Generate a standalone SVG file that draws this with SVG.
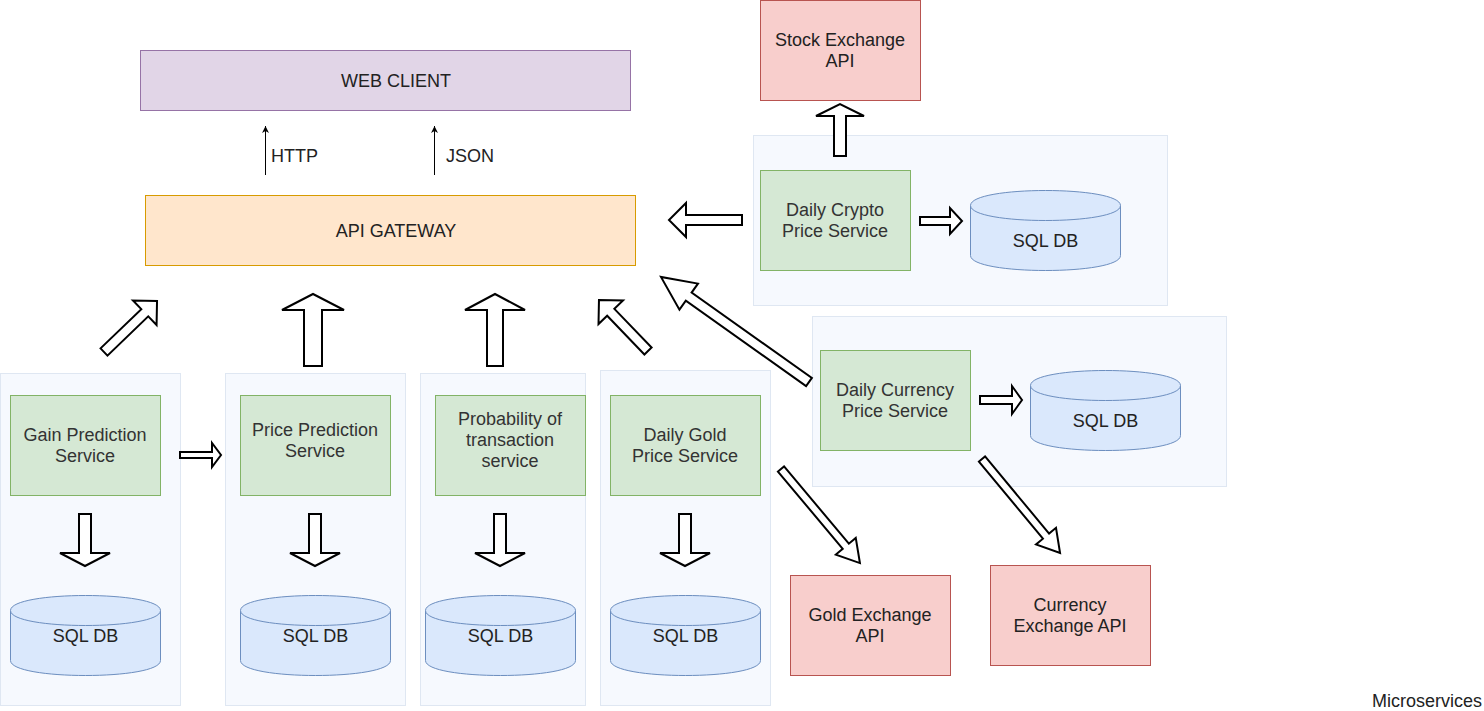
<svg xmlns="http://www.w3.org/2000/svg" width="1484" height="711" viewBox="0 0 1484 711">
<defs>
<style>
text{font-family:"Liberation Sans",Arial,Helvetica,sans-serif;font-size:18px;fill:#222;text-anchor:middle}
.svc text{fill:#333}
.cont{fill:#f6f9fe;stroke:#dfe7f2;stroke-width:1}
.svc rect{fill:#d5e8d4;stroke:#82b366;stroke-width:1}
.ext rect{fill:#f8cecc;stroke:#b85450;stroke-width:1}
.db path{fill:#dae8fc;stroke:#6c8ebf;stroke-width:1}
.blk{fill:#fff;stroke:#000;stroke-width:2;stroke-linejoin:miter}
.thin{stroke:#000;stroke-width:1;fill:none}
</style>
<marker id="ah" markerWidth="8" markerHeight="8" refX="7" refY="4" orient="auto" markerUnits="userSpaceOnUse">
<path d="M0,0.5 L7,4 L0,7.5 L2,4 Z" fill="#000"/>
</marker>
</defs>
<rect width="1484" height="711" fill="#fff"/>

<g id="containers">
<rect class="cont" x="0.5" y="373.5" width="180" height="332"/>
<rect class="cont" x="225.5" y="373.5" width="180" height="332"/>
<rect class="cont" x="420.5" y="373.5" width="165" height="332"/>
<rect class="cont" x="600.5" y="370.5" width="170" height="335"/>
<rect class="cont" x="753.5" y="135.5" width="414" height="170"/>
<rect class="cont" x="812.5" y="316.5" width="414" height="170"/>
</g>

<g id="web-client">
<rect x="140.5" y="50.5" width="490" height="60" fill="#e1d5e7" stroke="#9673a6"/>
<text x="396" y="87">WEB CLIENT</text>
</g>
<g id="api-gateway">
<rect x="145.5" y="195.5" width="490" height="70" fill="#ffe6cc" stroke="#d79b00"/>
<text x="396" y="237">API GATEWAY</text>
</g>

<g id="gain-prediction" class="svc">
<rect x="10.5" y="395.5" width="150" height="100"/>
<text x="85" y="441">Gain Prediction</text>
<text x="85" y="462">Service</text>
</g>
<g id="price-prediction" class="svc">
<rect x="240.5" y="395.5" width="150" height="100"/>
<text x="315" y="436">Price Prediction</text>
<text x="315" y="457">Service</text>
</g>
<g id="probability" class="svc">
<rect x="435.5" y="395.5" width="150" height="100"/>
<text x="510" y="425">Probability of</text>
<text x="510" y="446">transaction</text>
<text x="510" y="467">service</text>
</g>
<g id="daily-gold" class="svc">
<rect x="610.5" y="395.5" width="150" height="100"/>
<text x="685" y="441">Daily Gold</text>
<text x="685" y="462">Price Service</text>
</g>
<g id="daily-crypto" class="svc">
<rect x="760.5" y="170.5" width="150" height="100"/>
<text x="835" y="216">Daily Crypto</text>
<text x="835" y="237">Price Service</text>
</g>
<g id="daily-currency" class="svc">
<rect x="820.5" y="350.5" width="150" height="100"/>
<text x="895" y="396">Daily Currency</text>
<text x="895" y="417">Price Service</text>
</g>

<g id="stock-exchange-api" class="ext">
<rect x="760.5" y="0.5" width="160" height="100"/>
<text x="840" y="46">Stock Exchange</text>
<text x="840" y="67">API</text>
</g>
<g id="gold-exchange-api" class="ext">
<rect x="790.5" y="575.5" width="160" height="100"/>
<text x="870" y="621">Gold Exchange</text>
<text x="870" y="642">API</text>
</g>
<g id="currency-exchange-api" class="ext">
<rect x="990.5" y="565.5" width="160" height="100"/>
<text x="1070" y="611">Currency</text>
<text x="1070" y="632">Exchange API</text>
</g>

<g id="db-gain" class="db" transform="translate(10.5,595.5)">
<path d="M0,15 C0,-5 150,-5 150,15 L150,65 C150,85 0,85 0,65 Z"/>
<path d="M0,15 C0,35 150,35 150,15" fill="none"/>
<text x="75" y="46">SQL DB</text>
</g>
<g id="db-price" class="db" transform="translate(240.5,595.5)">
<path d="M0,15 C0,-5 150,-5 150,15 L150,65 C150,85 0,85 0,65 Z"/>
<path d="M0,15 C0,35 150,35 150,15" fill="none"/>
<text x="75" y="46">SQL DB</text>
</g>
<g id="db-probability" class="db" transform="translate(425.5,595.5)">
<path d="M0,15 C0,-5 150,-5 150,15 L150,65 C150,85 0,85 0,65 Z"/>
<path d="M0,15 C0,35 150,35 150,15" fill="none"/>
<text x="75" y="46">SQL DB</text>
</g>
<g id="db-gold" class="db" transform="translate(610.5,595.5)">
<path d="M0,15 C0,-5 150,-5 150,15 L150,65 C150,85 0,85 0,65 Z"/>
<path d="M0,15 C0,35 150,35 150,15" fill="none"/>
<text x="75" y="46">SQL DB</text>
</g>
<g id="db-crypto" class="db" transform="translate(970.5,190.5)">
<path d="M0,15 C0,-5 150,-5 150,15 L150,65 C150,85 0,85 0,65 Z"/>
<path d="M0,15 C0,35 150,35 150,15" fill="none"/>
<text x="75" y="56">SQL DB</text>
</g>
<g id="db-currency" class="db" transform="translate(1030.5,370.5)">
<path d="M0,15 C0,-5 150,-5 150,15 L150,65 C150,85 0,85 0,65 Z"/>
<path d="M0,15 C0,35 150,35 150,15" fill="none"/>
<text x="75" y="56">SQL DB</text>
</g>

<g id="connectors">
<line class="thin" x1="265.5" y1="175" x2="265.5" y2="126" marker-end="url(#ah)"/>
<line class="thin" x1="434.5" y1="175" x2="434.5" y2="126" marker-end="url(#ah)"/>
<text x="271" y="162" style="text-anchor:start">HTTP</text>
<text x="446" y="162" style="text-anchor:start">JSON</text>

<polygon class="blk" transform="translate(104,352) rotate(-43.9)" points="0,-5 56.6,-5 56.6,-17 73.6,0 56.6,17 56.6,5 0,5"/>
<polygon class="blk" points="304,366 304,310 282,310 313,294 344,310 322,310 322,366"/>
<polygon class="blk" points="487,366 487,310 465,310 495,294 525,310 503,310 503,366"/>
<polygon class="blk" transform="translate(648,351) rotate(-133.9)" points="0,-5 53.7,-5 53.7,-17 70.7,0 53.7,17 53.7,5 0,5"/>
<polygon class="blk" transform="translate(809,382) rotate(-144.64)" points="0,-5 147.5,-5 147.5,-16 181.5,0 147.5,16 147.5,5 0,5"/>
<polygon class="blk" points="742,215 686,215 686,203 669,220 686,237 686,225 742,225"/>
<polygon class="blk" points="834,156 834,116 816,116 840,104 864,116 846,116 846,156"/>
<polygon class="blk" points="920,217 950,217 950,208 962,221 950,234 950,225 920,225"/>
<polygon class="blk" points="180,452 212,452 212,443 221,455 212,467 212,458 180,458"/>
<polygon class="blk" points="980,396 1012,396 1012,386 1022,400 1012,414 1012,404 980,404"/>
<polygon class="blk" points="79,514 91,514 91,553 110,553 85,566 60,553 79,553"/>
<polygon class="blk" points="309,514 321,514 321,553 340,553 315,566 290,553 309,553"/>
<polygon class="blk" points="494,514 506,514 506,553 525,553 500,566 475,553 494,553"/>
<polygon class="blk" points="679,514 691,514 691,553 710,553 685,566 660,553 679,553"/>
<polygon class="blk" transform="translate(781,469) rotate(50)" points="0,-4 100.8,-4 100.8,-13 122.8,0 100.8,13 100.8,4 0,4"/>
<polygon class="blk" transform="translate(982,459) rotate(50.3)" points="0,-4 100.2,-4 100.2,-13 122.2,0 100.2,13 100.2,4 0,4"/>
</g>

<text x="1482" y="707" style="text-anchor:end">Microservices</text>
</svg>
